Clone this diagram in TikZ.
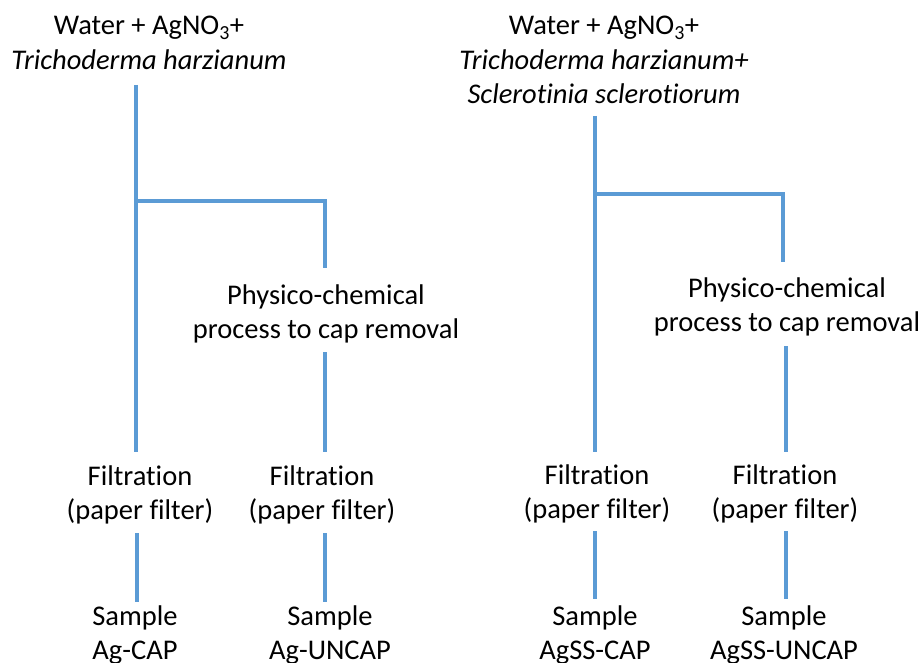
\documentclass[tikz,border=0pt]{standalone}
\usepackage{fontspec}
\setmainfont[Ligatures=NoCommon]{Carlito}
\definecolor{lineblue}{HTML}{5B9BD5}
\begin{document}
\begin{tikzpicture}[x=1pt,y=-1pt,
  lbl/.style={inner sep=0pt,align=center,font=\fontsize{28.5}{34.5}\selectfont},
  conn/.style={draw=lineblue,line width=3.4pt}]
\useasboundingbox[fill=white] (0,0) rectangle (921,663);
% left group
\node[lbl] (tL) at (149,43) {Water + AgNO\textsubscript{3}+\\\textit{Trichoderma harzianum}};
\node[lbl] (pL) at (326,314) {Physico-chemical\\process to cap removal};
\node[lbl] (fL1) at (140,495) {Filtration\\(paper filter)};
\node[lbl] (fL2) at (322,495) {Filtration\\(paper filter)};
\node[lbl] (sL1) at (135,635) {Sample\\Ag-CAP};
\node[lbl] (sL2) at (330,635) {Sample\\Ag-UNCAP};
% right group
\node[lbl] (tR) at (604,60) {Water + AgNO\textsubscript{3}+\\\textit{Trichoderma harzianum+}\\\textit{Sclerotinia sclerotiorum}};
\node[lbl] (pR) at (787,307) {Physico-chemical\\process to cap removal};
\node[lbl] (fR1) at (597,494) {Filtration\\(paper filter)};
\node[lbl] (fR2) at (785,494) {Filtration\\(paper filter)};
\node[lbl] (sR1) at (595,635) {Sample\\AgSS-CAP};
\node[lbl] (sR2) at (784,635) {Sample\\AgSS-UNCAP};
% connector points, left
\coordinate (aL) at (136,85);
\coordinate (jL1) at (136,201);
\coordinate (jL2) at (325,201);
\coordinate (bL2) at (325,268);
\coordinate (cL2) at (325,352);
\coordinate (dL1) at (136,452);
\coordinate (dL2) at (325,452);
\coordinate (eL1) at (137,533);
\coordinate (gL1) at (137,602);
\coordinate (eL2) at (325,533);
\coordinate (gL2) at (325,602);
% connector points, right
\coordinate (aR) at (595,116);
\coordinate (jR1) at (595,194);
\coordinate (jR2) at (783,194);
\coordinate (bR2) at (783,262);
\coordinate (cR2) at (786,346);
\coordinate (dR1) at (595,452);
\coordinate (dR2) at (786,452);
\coordinate (eR1) at (595,531);
\coordinate (gR1) at (595,599);
\coordinate (eR2) at (786,531);
\coordinate (gR2) at (786,599);
% connectors
\draw[conn] (aL) -- (jL1) -- (dL1);
\draw[conn] (jL1) -- (jL2) -- (bL2);
\draw[conn] (cL2) -- (dL2);
\draw[conn] (eL1) -- (gL1);
\draw[conn] (eL2) -- (gL2);
\draw[conn] (aR) -- (jR1) -- (dR1);
\draw[conn] (jR1) -- (jR2) -- (bR2);
\draw[conn] (cR2) -- (dR2);
\draw[conn] (eR1) -- (gR1);
\draw[conn] (eR2) -- (gR2);
\end{tikzpicture}
\end{document}
